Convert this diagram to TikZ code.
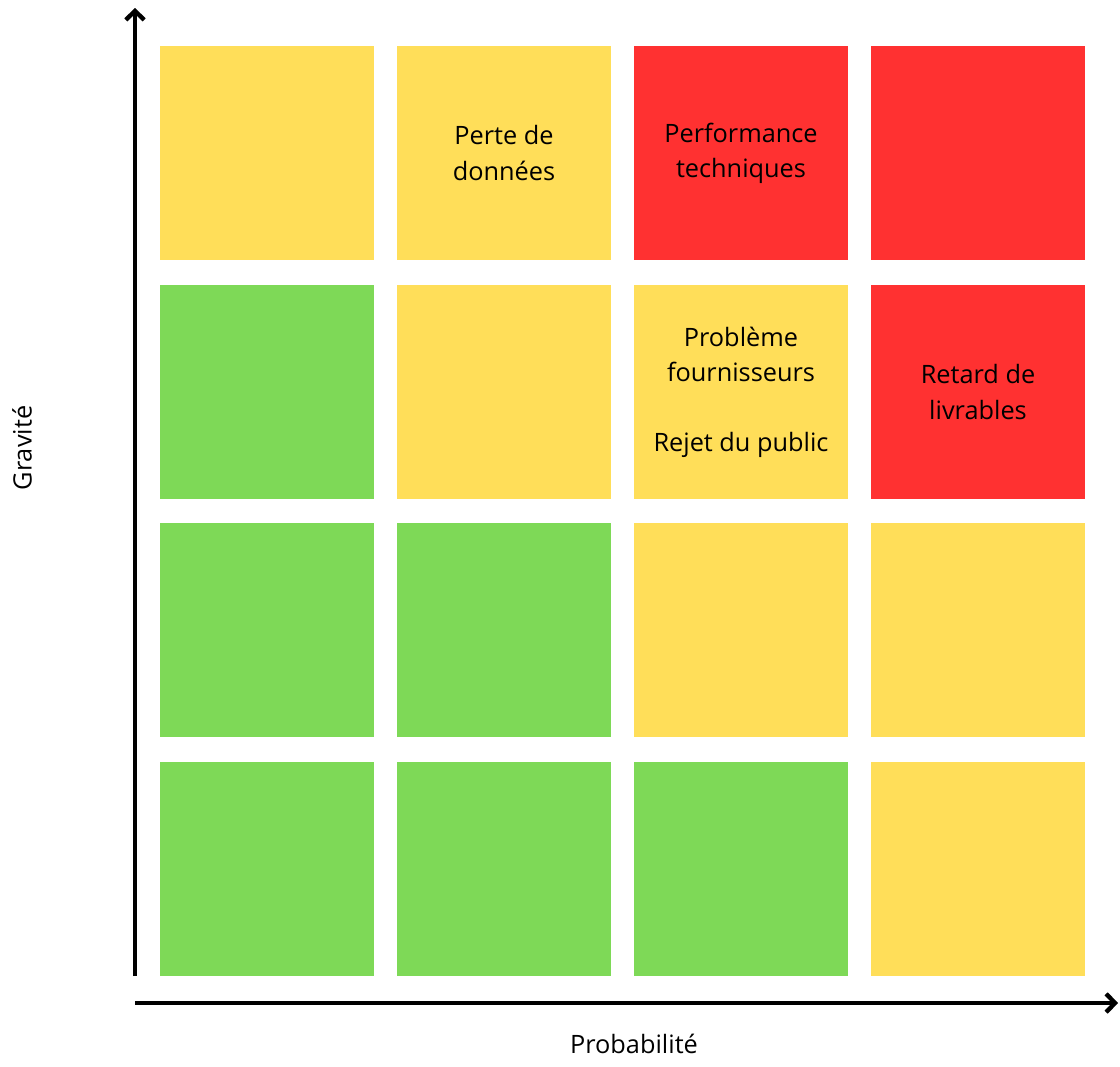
\documentclass[tikz,border=0pt]{standalone}
\usepackage{fontspec}
\setmainfont{Open Sans}
\usetikzlibrary{arrows.meta}
\definecolor{riskgreen}{HTML}{7ED957}
\definecolor{riskyellow}{HTML}{FFDE59}
\definecolor{riskred}{HTML}{FF3131}
\tikzset{
  cell/.style={minimum size=214*0.025cm,inner sep=0pt,align=center,
    font=\fontsize{18}{24.9}\selectfont},
  axis/.style={line width=1.1mm,-{Straight Barb[length=2.2mm,width=4.6mm,line width=1.1mm]}},
}
\begin{document}
\begin{tikzpicture}[x=0.025cm,y=-0.025cm]
  \useasboundingbox (0,0) rectangle (1120,1067);
  % grid, rows from top to bottom
  \node[cell,fill=riskyellow] (c11) at (267,153) {};
  \node[cell,fill=riskyellow] (c12) at (504,153) {Perte de\\données};
  \node[cell,fill=riskred]    (c13) at (741,153) {Performance\\techniques};
  \node[cell,fill=riskred]    (c14) at (978,153) {};
  \node[cell,fill=riskgreen]  (c21) at (267,392) {};
  \node[cell,fill=riskyellow] (c22) at (504,392) {};
  \node[cell,fill=riskyellow] (c23) at (741,392) {Problème\\fournisseurs\\\strut\\Rejet du public};
  \node[cell,fill=riskred]    (c24) at (978,392) {Retard de\\livrables};
  \foreach \x/\c [count=\i] in {267/riskgreen,504/riskgreen,741/riskyellow,978/riskyellow}
    \node[cell,fill=\c] (c3\i) at (\x,630) {};
  \foreach \x/\c [count=\i] in {267/riskgreen,504/riskgreen,741/riskgreen,978/riskyellow}
    \node[cell,fill=\c] (c4\i) at (\x,869) {};

  % axes
  \coordinate (origin) at (135,976);
  \coordinate (ytop) at (135,8);
  \coordinate (xstart) at (135,1003);
  \coordinate (xend) at (1118,1003);
  \draw[axis] (origin) -- (ytop);
  \draw[axis] (xstart) -- (xend);
  \node[font=\fontsize{18}{22}\selectfont,rotate=90] (glab) at (22,448) {Gravité};
  \node[font=\fontsize{18}{22}\selectfont] (plab) at (634,1044) {Probabilité};
\end{tikzpicture}
\end{document}
